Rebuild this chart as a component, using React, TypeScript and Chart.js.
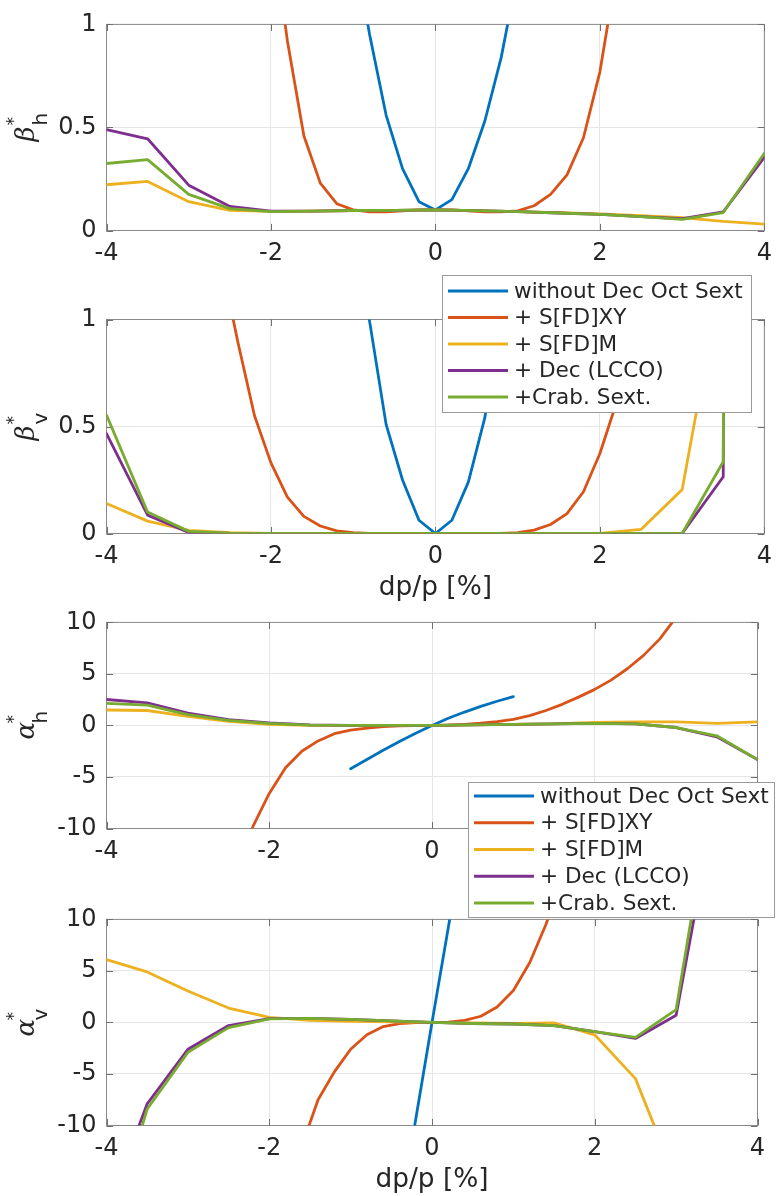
import React, { useEffect, useRef } from "react";
import { Chart, registerables } from "chart.js";
Chart.register(...registerables);

// ---------- data ----------
const seriesNames = ["without Dec Oct Sext", "+ S[FD]XY", "+ S[FD]M", "+ Dec (LCCO)", "+Crab. Sext."];
const seriesColors = ["#0072BD", "#D95319", "#EDB120", "#7E2F8E", "#77AC30"];

const xTickStep = 2;
const xMin = -4;
const xMax = 4;
const xTitleText = "dp/p [%]";

const xBlue = [-1, -0.8, -0.6, -0.4, -0.2, 0, 0.2, 0.4, 0.6, 0.8, 1];
const xOrange = [-3, -2.8, -2.6, -2.4, -2.2, -2, -1.8, -1.6, -1.4, -1.2, -1, -0.8, -0.6, -0.4, -0.2, 0,
  0.2, 0.4, 0.6, 0.8, 1, 1.2, 1.4, 1.6, 1.8, 2, 2.2, 2.4, 2.6, 2.8, 3];
const xCoarse = [-4, -3.5, -3, -2.5, -2, -1.5, -1, -0.5, 0, 0.5, 1, 1.5, 2, 2.5, 3, 3.5, 4];

// beta*_h
const betaH_blue = [1.40, 0.95, 0.56, 0.30, 0.14, 0.10, 0.15, 0.30, 0.53, 0.84, 1.25];
const betaH_orange = [8, 6.2, 4.2, 3.0, 2.2, 1.5, 0.92, 0.46, 0.23, 0.13, 0.10, 0.09, 0.09, 0.095, 0.10, 0.10,
  0.10, 0.095, 0.09, 0.09, 0.095, 0.12, 0.175, 0.27, 0.45, 0.77, 1.25, 1.9, 2.8, 4.0, 5.5];
const betaH_yellow = [0.222, 0.238, 0.14, 0.098, 0.093, 0.094, 0.096, 0.098, 0.10, 0.096, 0.092, 0.087, 0.080, 0.072, 0.062, 0.044, 0.031];
const betaH_purple = [0.49, 0.445, 0.22, 0.117, 0.094, 0.094, 0.097, 0.098, 0.10, 0.096, 0.092, 0.085, 0.078, 0.067, 0.057, 0.09, 0.355];
const betaH_green = [0.325, 0.344, 0.175, 0.106, 0.092, 0.094, 0.097, 0.098, 0.10, 0.096, 0.092, 0.085, 0.078, 0.067, 0.054, 0.087, 0.375];

// beta*_v
const betaV_blue = [1.6, 0.99, 0.51, 0.25, 0.062, 0.0, 0.062, 0.24, 0.54, 1.0, 1.6];
const betaV_orange = [3.0, 2.0, 1.26, 0.89, 0.55, 0.33, 0.17, 0.08, 0.035, 0.012, 0.004, 0.001, 0, 0, 0, 0,
  0, 0, 0, 0.001, 0.004, 0.016, 0.042, 0.093, 0.195, 0.374, 0.61, 1.0, 1.5, 2.2, 3.1];
const betaV_yellow = [0.14, 0.058, 0.015, 0.004, 0.001, 0, 0, 0, 0, 0, 0, 0, 0.001, 0.019, 0.205, 1.25, 3.0];
const betaV_purple = [0.467, 0.086, 0.005, 0.001, 0, 0, 0, 0, 0, 0, 0, 0, 0, 0, 0, 0.265, 60];
const betaV_green = [0.553, 0.10, 0.01, 0.002, 0, 0, 0, 0, 0, 0, 0, 0, 0, 0, 0, 0.335, 50];

// alpha*_h
const alphaH_blue = [-4.2, -3.3, -2.4, -1.55, -0.75, 0.0, 0.7, 1.3, 1.85, 2.35, 2.8];
const alphaH_orange = [-40, -30, -22, -15, -9.8, -6.6, -4.1, -2.5, -1.5, -0.8, -0.45, -0.25, -0.12, -0.05, -0.01, 0,
  0.02, 0.1, 0.22, 0.38, 0.6, 0.95, 1.45, 2.05, 2.75, 3.5, 4.4, 5.5, 6.8, 8.4, 10.5];
const alphaH_yellow = [1.5, 1.45, 0.88, 0.4, 0.1, 0.0, 0.0, 0.0, 0.0, 0.05, 0.1, 0.15, 0.3, 0.35, 0.35, 0.2, 0.35];
const alphaH_purple = [2.52, 2.2, 1.2, 0.57, 0.25, 0.05, 0.0, 0.0, 0.0, 0.05, 0.1, 0.15, 0.2, 0.15, -0.2, -1.1, -3.3];
const alphaH_green = [2.14, 1.98, 1.04, 0.5, 0.2, 0.03, 0.0, 0.0, 0.0, 0.05, 0.1, 0.15, 0.2, 0.15, -0.2, -1.0, -3.3];

// alpha*_v
const alphaV_blue = [-48, -38, -28, -19, -9.4, 0, 9.2, 18.5, 28, 37, 47];
const alphaV_orange = [-130, -102, -78, -58, -42, -29, -19, -12, -7.5, -4.8, -2.6, -1.2, -0.4, -0.12, -0.02, 0,
  0.03, 0.2, 0.6, 1.5, 3.1, 5.8, 9.5, 14, 20, 28, 38, 50, 65, 83, 105];
const alphaV_yellow = [6.1, 4.9, 3.05, 1.4, 0.5, 0.2, 0.1, 0.05, 0, -0.05, -0.1, -0.05, -1.2, -5.45, -15.3, -25, -40];
const alphaV_purple = [-18.4, -7.9, -2.6, -0.3, 0.38, 0.4, 0.3, 0.15, 0, -0.1, -0.15, -0.3, -0.9, -1.55, 0.7, 22, 60];
const alphaV_green = [-21.7, -8.4, -2.9, -0.5, 0.35, 0.4, 0.3, 0.15, 0, -0.1, -0.15, -0.3, -0.9, -1.45, 1.25, 25, 65];

const seriesX = [xBlue, xOrange, xCoarse, xCoarse, xCoarse];

// ---------- layout ----------
type Panel = {
  canvasTop: number;
  canvasHeight: number;
  area: { left: number; top: number; right: number; bottom: number };
  yMin: number; yMax: number; yStep: number;
  ys: number[][];
  xTitle: boolean;
  greek: string; sub: string;
  legend?: { left: number; top: number; width: number; height: number; rowTop: number; rowGap: number };
  z: number;
};

const W = 781;
const YAXIS_W = 60;

const panels: Panel[] = [
  {
    canvasTop: 0, canvasHeight: 270,
    area: { left: 106.5, top: 16.5, right: 767.5, bottom: 230.5 },
    yMin: 0, yMax: 1, yStep: 0.5,
    ys: [betaH_blue, betaH_orange, betaH_yellow, betaH_purple, betaH_green],
    xTitle: false, greek: "β", sub: "h", z: 1,
  },
  {
    canvasTop: 265, canvasHeight: 345,
    area: { left: 106.5, top: 319.5, right: 767.5, bottom: 533.5 },
    yMin: 0, yMax: 1, yStep: 0.5,
    ys: [betaV_blue, betaV_orange, betaV_yellow, betaV_purple, betaV_green],
    xTitle: true, greek: "β", sub: "v", z: 2,
    legend: { left: 442, top: 275, width: 310, height: 138, rowTop: 16, rowGap: 26.5 },
  },
  {
    canvasTop: 598, canvasHeight: 327,
    area: { left: 106.5, top: 616.5, right: 757.5, bottom: 828.5 },
    yMin: -10, yMax: 10, yStep: 5,
    ys: [alphaH_blue, alphaH_orange, alphaH_yellow, alphaH_purple, alphaH_green],
    xTitle: false, greek: "α", sub: "h", z: 4,
    legend: { left: 468, top: 782, width: 307, height: 136, rowTop: 14, rowGap: 26.75 },
  },
  {
    canvasTop: 895, canvasHeight: 301,
    area: { left: 106.5, top: 915.5, right: 757.5, bottom: 1125.5 },
    yMin: -10, yMax: 10, yStep: 5,
    ys: [alphaV_blue, alphaV_orange, alphaV_yellow, alphaV_purple, alphaV_green],
    xTitle: true, greek: "α", sub: "v", z: 3,
  },
];

const TEXT = "#262626";
const FONT = '"DejaVu Sans", sans-serif';

const decor = {
  id: "decor",
  beforeDatasetsDraw(chart: any) {
    const { ctx, chartArea: a, scales } = chart;
    ctx.save();
    ctx.strokeStyle = "#8a8a8a";
    ctx.lineWidth = 1;
    ctx.strokeRect(a.left, a.top, a.right - a.left, a.bottom - a.top);
    const tl = 6.6;
    ctx.strokeStyle = "#6f6f6f";
    ctx.beginPath();
    scales.x.ticks.forEach((t: any) => {
      const px = Math.round(scales.x.getPixelForValue(t.value)) + 0.5;
      ctx.moveTo(px, a.bottom); ctx.lineTo(px, a.bottom - tl);
      ctx.moveTo(px, a.top); ctx.lineTo(px, a.top + tl);
    });
    scales.y.ticks.forEach((t: any) => {
      const py = Math.round(scales.y.getPixelForValue(t.value)) + 0.5;
      ctx.moveTo(a.left, py); ctx.lineTo(a.left + tl, py);
      ctx.moveTo(a.right, py); ctx.lineTo(a.right - tl, py);
    });
    ctx.stroke();
    ctx.restore();
  },
  afterDraw(chart: any, _a: any, opts: any) {
    const { ctx, chartArea: a } = chart;
    // y-axis label with superscript * and subscript
    const yc = (a.top + a.bottom) / 2;
    ctx.save();
    ctx.translate(34, yc);
    ctx.rotate(-Math.PI / 2);
    ctx.fillStyle = TEXT;
    ctx.textAlign = "left";
    ctx.textBaseline = "alphabetic";
    ctx.font = 'italic 26px "DejaVu Serif", serif';
    ctx.fillText(opts.greek, -14, 0);
    ctx.font = "17px " + FONT;
    ctx.fillText("*", 2, -15);
    ctx.font = "20px " + FONT;
    ctx.fillText(opts.sub, 2, 13);
    ctx.restore();

    const lg = opts.legend;
    if (lg) {
      const top = lg.top - opts.canvasTop;
      ctx.save();
      ctx.fillStyle = "#ffffff";
      ctx.fillRect(lg.left, top, lg.width, lg.height);
      ctx.strokeStyle = "#9a9a9a";
      ctx.lineWidth = 1;
      ctx.strokeRect(lg.left + 0.5, top + 0.5, lg.width - 1, lg.height - 1);
      chart.data.datasets.forEach((ds: any, i: number) => {
        const y = top + lg.rowTop + i * lg.rowGap;
        ctx.strokeStyle = ds.borderColor;
        ctx.lineWidth = 3;
        ctx.beginPath();
        ctx.moveTo(lg.left + 6, y);
        ctx.lineTo(lg.left + 66, y);
        ctx.stroke();
        ctx.fillStyle = TEXT;
        ctx.font = "21.6px " + FONT;
        ctx.textAlign = "left";
        ctx.textBaseline = "middle";
        ctx.fillText(ds.label, lg.left + 72, y + 1);
      });
      ctx.restore();
    }
  },
};

const plainTick = (v: any) => `${v}`;

function buildChart(canvas: HTMLCanvasElement, p: Panel) {
  const xH = p.xTitle ? 70 : 35;
  const a = p.area;
  const datasets = p.ys.map((ys, i) => ({
    label: seriesNames[i],
    data: seriesX[i].map((x, j) => ({ x, y: ys[j] })),
    borderColor: seriesColors[i],
    backgroundColor: seriesColors[i],
    borderWidth: 2.8,
    pointRadius: 0,
    tension: 0,
    fill: false,
    borderJoinStyle: "round" as const,
    borderCapStyle: "round" as const,
    order: 5 - i,
  }));
  return new Chart(canvas, {
    type: "line",
    data: { datasets },
    plugins: [decor],
    options: {
      animation: false,
      responsive: false,
      events: [],
      layout: {
        padding: {
          left: a.left - YAXIS_W,
          top: a.top - p.canvasTop,
          right: W - a.right,
          bottom: p.canvasTop + p.canvasHeight - a.bottom - xH,
        },
      },
      plugins: {
        legend: { display: false },
        tooltip: { enabled: false },
        decor: { greek: p.greek, sub: p.sub, legend: p.legend, canvasTop: p.canvasTop },
      } as any,
      scales: {
        x: {
          type: "linear",
          min: xMin,
          max: xMax,
          ticks: {
            stepSize: xTickStep,
            color: TEXT,
            font: { family: FONT, size: 24 },
            padding: 9,
            maxRotation: 0,
            autoSkip: false,
            callback: plainTick,
          },
          grid: { color: "#e6e6e6", drawTicks: false, lineWidth: 1 },
          border: { display: false },
          title: {
            display: p.xTitle,
            text: xTitleText,
            color: TEXT,
            font: { family: FONT, size: 26.4 },
            padding: { top: 0, bottom: 0 },
          },
          afterFit: (s: any) => { s.height = xH; },
        },
        y: {
          type: "linear",
          min: p.yMin,
          max: p.yMax,
          ticks: {
            stepSize: p.yStep,
            color: TEXT,
            font: { family: FONT, size: 24 },
            padding: 10,
            callback: plainTick,
          },
          grid: { color: "#e6e6e6", drawTicks: false, lineWidth: 1 },
          border: { display: false },
          afterFit: (s: any) => { s.width = YAXIS_W; },
        },
      } as any,
    },
  });
}

export default function App() {
  const refs = useRef<(HTMLCanvasElement | null)[]>([]);
  useEffect(() => {
    document.body.style.margin = "0";
    document.body.style.background = "#ffffff";
    const charts = panels.map((p, i) => buildChart(refs.current[i] as HTMLCanvasElement, p));
    return () => charts.forEach((c) => c.destroy());
  }, []);
  return (
    <div style={{ position: "relative", width: W, height: 1196, background: "#fff", overflow: "hidden" }}>
      {panels.map((p, i) => (
        <canvas
          key={i}
          ref={(el) => { refs.current[i] = el; }}
          width={W}
          height={p.canvasHeight}
          style={{ position: "absolute", left: 0, top: p.canvasTop, width: W, height: p.canvasHeight, zIndex: p.z }}
        />
      ))}
    </div>
  );
}
